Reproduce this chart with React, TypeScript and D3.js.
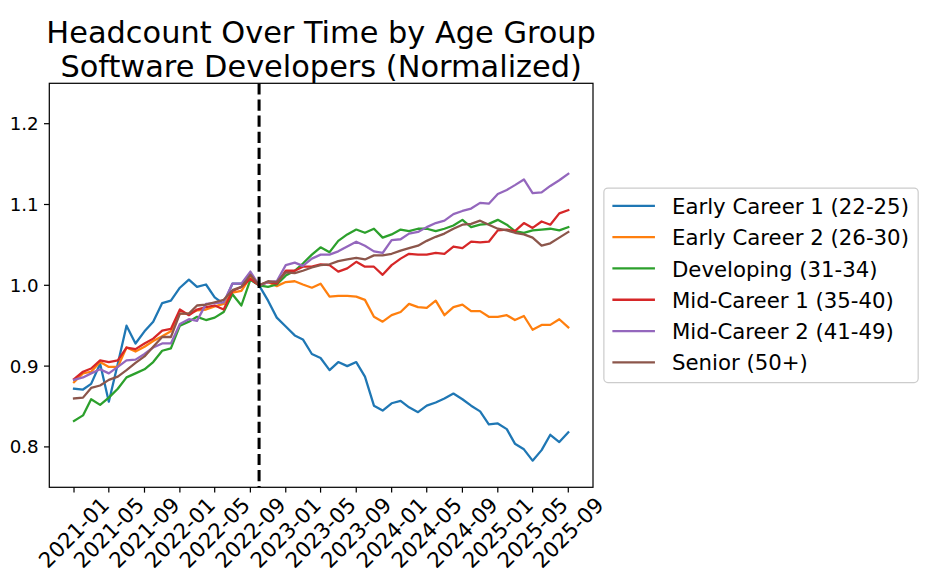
import React from 'react';
import * as d3 from 'd3';

// monthly observations, 2021-01 .. 2025-09, normalized to 2022-10 = 1.0
const startMonth = new Date(2021, 0, 1);
const endMonth = new Date(2025, 8, 1);
const breakMonth = new Date(2022, 9, 1);

const seriesNames = [
  'Early Career 1 (22-25)',
  'Early Career 2 (26-30)',
  'Developing (31-34)',
  'Mid-Career 1 (35-40)',
  'Mid-Career 2 (41-49)',
  'Senior (50+)',
];

const seriesColors = ['#1f77b4', '#ff7f0e', '#2ca02c', '#d62728', '#9467bd', '#8c564b'];

const earlyCareer1 = [
  0.872, 0.871, 0.878, 0.903, 0.856, 0.903, 0.95, 0.928, 0.943, 0.955, 0.978, 0.981,
  0.997, 1.007, 0.998, 1.001, 0.985, 0.977, 1.002, 1.002, 1.007, 1.0, 0.981, 0.96,
  0.949, 0.938, 0.933, 0.915, 0.91, 0.895, 0.905, 0.9, 0.905, 0.887, 0.851, 0.845,
  0.854, 0.857, 0.849, 0.843, 0.851, 0.855, 0.86, 0.866, 0.859, 0.851, 0.844, 0.828,
  0.829, 0.822, 0.804, 0.797, 0.783, 0.796, 0.815, 0.806, 0.818,
];

const earlyCareer2 = [
  0.88, 0.891, 0.893, 0.905, 0.899, 0.899, 0.923, 0.918, 0.924, 0.931, 0.937, 0.943,
  0.965, 0.965, 0.969, 0.97, 0.974, 0.977, 0.991, 0.993, 1.01, 1.0, 1.004, 0.999,
  1.004, 1.005, 1.001, 0.997, 1.002, 0.986, 0.987, 0.987, 0.986, 0.982, 0.961, 0.955,
  0.963, 0.967, 0.977, 0.973, 0.972, 0.981, 0.963, 0.973, 0.976, 0.968, 0.968, 0.961,
  0.961, 0.963, 0.957, 0.962, 0.945, 0.951, 0.951, 0.958, 0.948,
];

const developing = [
  0.832, 0.839, 0.859, 0.852, 0.861, 0.872, 0.886, 0.891, 0.896, 0.905, 0.919, 0.922,
  0.95, 0.955, 0.961, 0.957, 0.96, 0.967, 0.989, 0.975, 1.007, 1.0, 0.998, 1.001,
  1.012, 1.018, 1.027, 1.038, 1.047, 1.041, 1.055, 1.063, 1.069, 1.065, 1.07, 1.059,
  1.063, 1.069, 1.067, 1.07, 1.07, 1.067, 1.07, 1.074, 1.081, 1.072, 1.075, 1.076,
  1.081, 1.075, 1.067, 1.065, 1.068, 1.069, 1.07, 1.068, 1.072,
];

const midCareer1 = [
  0.884, 0.893, 0.897, 0.907, 0.905, 0.907, 0.923, 0.921, 0.928, 0.934, 0.944, 0.946,
  0.97, 0.963, 0.97, 0.973, 0.975, 0.97, 0.993, 0.998, 1.008, 1.0, 1.004, 1.002,
  1.018, 1.018, 1.023, 1.023, 1.026, 1.025, 1.017, 1.021, 1.029, 1.023, 1.023, 1.013,
  1.025, 1.033, 1.039, 1.038, 1.038, 1.04, 1.039, 1.048, 1.046, 1.054, 1.053, 1.054,
  1.068, 1.069, 1.067, 1.077, 1.071, 1.079, 1.075, 1.089, 1.093,
];

const midCareer2 = [
  0.883, 0.886, 0.891, 0.896, 0.891, 0.899, 0.907, 0.908, 0.915, 0.923, 0.928, 0.928,
  0.952, 0.958, 0.956, 0.977, 0.978, 0.979, 1.002, 1.002, 1.017, 1.0, 1.004, 1.005,
  1.025, 1.028, 1.024, 1.033, 1.038, 1.038, 1.042, 1.048, 1.054, 1.049, 1.042, 1.04,
  1.056, 1.057, 1.064, 1.066, 1.072, 1.077, 1.08, 1.088, 1.092, 1.095, 1.102, 1.101,
  1.113, 1.118, 1.124, 1.131, 1.114, 1.115, 1.123, 1.13, 1.138,
];

const senior = [
  0.86, 0.861, 0.873, 0.876, 0.883, 0.887, 0.895, 0.904, 0.912, 0.924, 0.936, 0.936,
  0.965, 0.965, 0.975, 0.976, 0.979, 0.982, 0.994, 0.998, 1.013, 1.0, 1.005, 1.004,
  1.016, 1.015, 1.018, 1.022, 1.025, 1.026, 1.03, 1.032, 1.034, 1.032, 1.037, 1.037,
  1.039, 1.043, 1.046, 1.049, 1.055, 1.06, 1.064, 1.07, 1.075, 1.076, 1.08, 1.075,
  1.07, 1.068, 1.065, 1.063, 1.059, 1.049, 1.052, 1.059, 1.066,
];

const seriesValues = [earlyCareer1, earlyCareer2, developing, midCareer1, midCareer2, senior];

const xTickLabels = [
  '2021-01', '2021-05', '2021-09', '2022-01', '2022-05', '2022-09', '2023-01', '2023-05',
  '2023-09', '2024-01', '2024-05', '2024-09', '2025-01', '2025-05', '2025-09',
];
const yTicks = [0.8, 0.9, 1.0, 1.1, 1.2];
const yDomain: [number, number] = [0.75, 1.25];

const W = 930;
const H = 580;
const plot = { left: 49.3, right: 593, top: 83.3, bottom: 487.3 };
const FONT = '"DejaVu Sans", sans-serif';
const pt = 1.52; // px per point

const App: React.FC = () => {
  const months = d3.timeMonth.range(startMonth, d3.timeMonth.offset(endMonth, 1));

  // matplotlib-style 5% margins on x
  const span = endMonth.getTime() - startMonth.getTime();
  const x = d3
    .scaleTime()
    .domain([new Date(startMonth.getTime() - span * 0.05), new Date(endMonth.getTime() + span * 0.05)])
    .range([plot.left, plot.right]);
  const y = d3.scaleLinear().domain(yDomain).range([plot.bottom, plot.top]);

  const line = d3
    .line<number>()
    .x((_, i) => x(months[i]))
    .y((d) => y(d));

  const parseTick = d3.timeParse('%Y-%m');
  const tickLen = 3.5 * pt;
  const tickPad = 3.5 * pt;
  const xFont = 14 * pt;
  const yFont = 12 * pt;
  const legendFont = 14 * pt;
  const titleFont = 20 * pt;

  // legend placed outside, centre-left anchored at (1.02, 0.5)
  const plotW = plot.right - plot.left;
  const lgX = plot.right + 0.02 * plotW;
  const rowH = 31.3;
  const lgW = 314.3;
  const lgH = 194.5;
  const lgY = (plot.top + plot.bottom) / 2 - lgH / 2;
  const cx = (plot.left + plot.right) / 2;

  return (
    <svg
      width={W}
      height={H}
      style={{ position: 'absolute', left: 0, top: 0, background: '#fff' }}
      fontFamily={FONT}
    >
      <rect x={0} y={0} width={W} height={H} fill="#fff" />

      <text x={cx} y={43} fontSize={titleFont} textAnchor="middle" fill="#000">
        Headcount Over Time by Age Group
      </text>
      <text x={cx} y={76.5} fontSize={titleFont} textAnchor="middle" fill="#000">
        Software Developers (Normalized)
      </text>

      <defs>
        <clipPath id="plotClip">
          <rect x={plot.left} y={plot.top} width={plotW} height={plot.bottom - plot.top} />
        </clipPath>
      </defs>

      <g clipPath="url(#plotClip)">
        {seriesValues.map((vals, s) => (
          <path
            key={seriesNames[s]}
            d={line(vals) || ''}
            fill="none"
            stroke={seriesColors[s]}
            strokeWidth={1.5 * pt}
            strokeLinejoin="round"
            strokeLinecap="square"
          />
        ))}
        <line
          x1={x(breakMonth)}
          x2={x(breakMonth)}
          y1={plot.top}
          y2={plot.bottom}
          stroke="#000"
          strokeWidth={2 * pt}
          strokeDasharray={`${7.4 * pt} ${3.2 * pt}`}
        />
      </g>

      <rect
        x={plot.left}
        y={plot.top}
        width={plotW}
        height={plot.bottom - plot.top}
        fill="none"
        stroke="#000"
        strokeWidth={0.8 * pt}
      />

      {yTicks.map((t) => (
        <g key={t}>
          <line
            x1={plot.left - tickLen}
            x2={plot.left}
            y1={y(t)}
            y2={y(t)}
            stroke="#000"
            strokeWidth={0.8 * pt}
          />
          <text
            x={plot.left - tickLen - tickPad}
            y={y(t)}
            dy="0.36em"
            fontSize={yFont}
            textAnchor="end"
            fill="#000"
          >
            {t.toFixed(1)}
          </text>
        </g>
      ))}

      {xTickLabels.map((lab) => {
        const tx = x(parseTick(lab) as Date);
        const ty = 532.5;
        return (
          <g key={lab}>
            <line
              x1={tx}
              x2={tx}
              y1={plot.bottom}
              y2={plot.bottom + tickLen}
              stroke="#000"
              strokeWidth={0.8 * pt}
            />
            <text
              x={tx}
              y={ty}
              dy="0.35em"
              fontSize={xFont}
              textAnchor="middle"
              fill="#000"
              transform={`rotate(-45 ${tx} ${ty})`}
            >
              {lab}
            </text>
          </g>
        );
      })}

      <g>
        <rect
          x={lgX}
          y={lgY}
          width={lgW}
          height={lgH}
          rx={4}
          fill="#fff"
          fillOpacity={0.8}
          stroke="#cccccc"
          strokeWidth={0.8 * pt}
        />
        {seriesNames.map((name, i) => {
          const ly = lgY + 17.8 + i * rowH;
          const hx = lgX + 0.4 * legendFont;
          return (
            <g key={name}>
              <line
                x1={hx}
                x2={hx + 2 * legendFont}
                y1={ly}
                y2={ly}
                stroke={seriesColors[i]}
                strokeWidth={1.5 * pt}
              />
              <text
                x={hx + 2.8 * legendFont}
                y={ly}
                dy="0.38em"
                fontSize={legendFont}
                fill="#000"
              >
                {name}
              </text>
            </g>
          );
        })}
      </g>
    </svg>
  );
};

export default App;
